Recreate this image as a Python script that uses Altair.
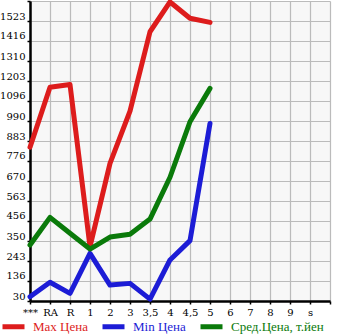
import altair as alt
import pandas as pd

categories = ["***", "RA", "R", "1", "2", "3", "3,5", "4", "4,5", "5", "6", "7", "8", "9", "s"]
series_names = ["Max Цена", "Min Цена", "Сред.Цена, т.йен"]
max_price = [850, 1170, 1185, 320, 764, 1043, 1466, 1625, 1538, 1516]
min_price = [53, 130, 71, 284, 115, 124, 40, 249, 352, 977]
avg_price = [329, 476, 391, 307, 371, 386, 467, 690, 986, 1164]
y_ticks = [30, 136.67, 243.33, 350, 456.67, 563.33, 670, 776.67, 883.33, 990,
           1096.67, 1203.33, 1310, 1416.67, 1523.33, 1630]
colors = ["#dd1c1c", "#1c1cd6", "#0a7a0a"]

rows = []
for name, vals in zip(series_names, [max_price, min_price, avg_price]):
    for i, v in enumerate(vals):
        rows.append({"idx": i, "value": v, "series": name})
df = pd.DataFrame(rows)

label_map = "{" + ",".join(f"'{i}':'{c}'" for i, c in enumerate(categories)) + "}"

color_expr = (
    f"datum.label == '{series_names[0]}' ? '{colors[0]}' : "
    f"datum.label == '{series_names[1]}' ? '{colors[1]}' : '{colors[2]}'"
)

chart = alt.Chart(df).mark_line(strokeWidth=5, strokeJoin="round", strokeCap="round").encode(
    x=alt.X("idx:Q",
            scale=alt.Scale(domain=[0, 15], nice=False, zero=False),
            axis=alt.Axis(values=list(range(16)), title=None,
                          labelExpr=f"({label_map})[''+datum.value] || ''",
                          labelFont="DejaVu Serif", labelFontSize=10, labelColor="#000",
                          labelPadding=3, tickSize=3, tickColor="#000", tickWidth=1.5,
                          domainColor="#000", domainWidth=2.5,
                          gridColor="#bbbbbb", gridWidth=1.2, labelFlush=False)),
    y=alt.Y("value:Q",
            scale=alt.Scale(domain=[30, 1630], nice=False, zero=False),
            axis=alt.Axis(values=y_ticks, title=None,
                          labelExpr="datum.value > 1600 ? '' : '' + floor(datum.value)",
                          labelFont="DejaVu Serif", labelFontSize=10, labelColor="#000",
                          labelBaseline="alphabetic", labelOffset=-2, labelPadding=2,
                          tickSize=3, tickColor="#000", tickWidth=1.5,
                          domainColor="#000", domainWidth=2.5,
                          gridColor="#bbbbbb", gridWidth=1.2, labelFlush=False)),
    color=alt.Color("series:N",
                    scale=alt.Scale(domain=series_names, range=colors),
                    sort=series_names,
                    legend=alt.Legend(title=None, orient="none", legendX=-30, legendY=312,
                                      direction="horizontal", symbolType="stroke",
                                      symbolSize=484, symbolStrokeWidth=5,
                                      labelFont="Liberation Serif", labelFontSize=13,
                                      labelColor={"expr": color_expr},
                                      columnPadding=4, symbolOffset=0, labelOffset=6,
                                      padding=0)),
    order=alt.Order("idx:Q"),
).properties(
    width=300, height=300,
    autosize=alt.AutoSizeParams(type="none"),
    padding={"left": 30, "top": 1, "right": 15, "bottom": 34},
    background="#ffffff",
).configure_view(fill="#f7f7f7", stroke=None)

chart.save("out.html", embed_options={"renderer": "svg", "actions": False})
